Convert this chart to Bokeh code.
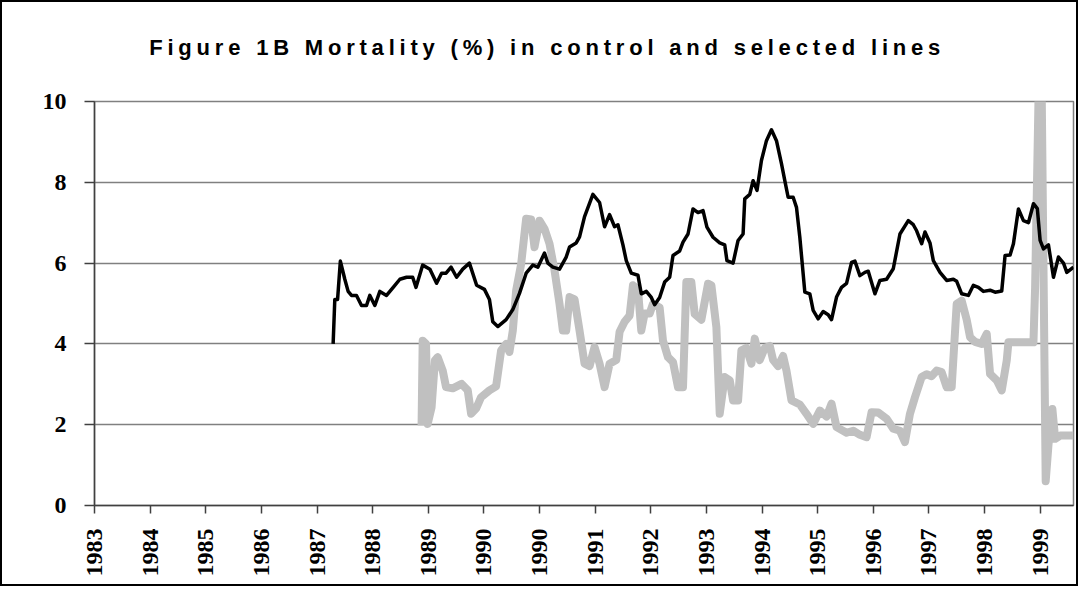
import math
from bokeh.plotting import figure
from bokeh.models import Range1d, FixedTicker, Column
from bokeh.embed import file_html
from bokeh.resources import INLINE
from bokeh.core.properties import value

title_text = "Figure 1B Mortality (%) in control and selected lines"
tick_labels = ["1983", "1984", "1985", "1986", "1987", "1988", "1989", "1990", "1990",
               "1991", "1992", "1993", "1994", "1995", "1996", "1997", "1998", "1999"]
y_ticks = [0, 2, 4, 6, 8, 10]

# control line (black), x in label-interval units
control_x = [4.29, 4.32, 4.37, 4.42, 4.50, 4.56, 4.62, 4.71, 4.80, 4.89, 4.95, 5.04, 5.13, 5.25,
             5.37, 5.49, 5.61, 5.72, 5.78, 5.90, 6.03, 6.15, 6.24, 6.32, 6.41, 6.51, 6.62, 6.74,
             6.87, 7.01, 7.10, 7.16, 7.25, 7.40, 7.52, 7.64, 7.76, 7.88, 7.97, 8.09, 8.15, 8.24,
             8.36, 8.48, 8.54, 8.66, 8.72, 8.81, 8.96, 9.08, 9.17, 9.26, 9.35, 9.41, 9.50, 9.56,
             9.65, 9.77, 9.83, 9.92, 10.01, 10.07, 10.16, 10.25, 10.34, 10.40, 10.52, 10.58, 10.67,
             10.76, 10.85, 10.94, 11.01, 11.12, 11.24, 11.33, 11.37, 11.48, 11.57, 11.66, 11.69,
             11.78, 11.84, 11.91, 11.99, 12.08, 12.17, 12.26, 12.35, 12.41, 12.47, 12.56, 12.62,
             12.68, 12.77, 12.86, 12.92, 13.01, 13.10, 13.19, 13.25, 13.34, 13.43, 13.52, 13.61,
             13.67, 13.76, 13.85, 13.91, 14.03, 14.12, 14.24, 14.36, 14.48, 14.63, 14.72, 14.78,
             14.87, 14.93, 15.02, 15.08, 15.20, 15.32, 15.44, 15.50, 15.59, 15.71, 15.80, 15.89,
             15.98, 16.10, 16.19, 16.31, 16.37, 16.46, 16.52, 16.61, 16.70, 16.79, 16.88, 16.95,
             17.00, 17.06, 17.15, 17.24, 17.33, 17.42, 17.48, 17.60]
control_y = [4.0, 5.1, 5.1, 6.05, 5.6, 5.3, 5.2, 5.2, 4.95, 4.95, 5.2, 4.95, 5.3, 5.2,
             5.4, 5.6, 5.65, 5.65, 5.4, 5.95, 5.85, 5.5, 5.75, 5.75, 5.9, 5.65, 5.85, 6.0,
             5.45, 5.35, 5.1, 4.55, 4.43, 4.6, 4.85, 5.25, 5.75, 5.95, 5.9, 6.25, 6.0, 5.9,
             5.85, 6.15, 6.4, 6.5, 6.65, 7.15, 7.7, 7.5, 6.9, 7.2, 6.9, 6.95, 6.45, 6.06,
             5.75, 5.7, 5.24, 5.3, 5.15, 4.97, 5.15, 5.53, 5.65, 6.19, 6.3, 6.52, 6.72,
             7.34, 7.25, 7.3, 6.89, 6.64, 6.5, 6.45, 6.06, 6.0, 6.56, 6.72, 7.59,
             7.7, 8.04, 7.8, 8.54, 9.03, 9.3, 9.03, 8.46, 8.04, 7.63, 7.63, 7.38,
             6.64, 5.28, 5.24, 4.83, 4.62, 4.8, 4.72, 4.6, 5.16, 5.4, 5.5, 6.02,
             6.05, 5.69, 5.77, 5.8, 5.24, 5.57, 5.6, 5.86, 6.72, 7.05, 6.95, 6.8,
             6.48, 6.77, 6.5, 6.06, 5.77, 5.57, 5.6, 5.55, 5.24, 5.2, 5.45, 5.4,
             5.3, 5.33, 5.28, 5.31, 6.19, 6.2, 6.48, 7.34, 7.05, 7.0, 7.47, 7.35,
             6.56, 6.35, 6.45, 5.65, 6.15, 6.0, 5.77, 5.9]

# selected line (grey)
selected_x = [5.88, 5.90, 5.96, 5.99, 6.06, 6.12, 6.17, 6.26, 6.32, 6.44, 6.60, 6.71, 6.77, 6.86,
              6.95, 7.10, 7.22, 7.31, 7.40, 7.46, 7.52, 7.58, 7.67, 7.76, 7.85, 7.91, 8.00, 8.09,
              8.18, 8.27, 8.36, 8.42, 8.48, 8.54, 8.63, 8.72, 8.81, 8.90, 8.99, 9.08, 9.17, 9.26,
              9.38, 9.44, 9.53, 9.62, 9.68, 9.77, 9.83, 9.89, 9.98, 10.04, 10.16, 10.22, 10.31,
              10.40, 10.49, 10.58, 10.64, 10.73, 10.79, 10.91, 11.03, 11.09, 11.18, 11.24, 11.33,
              11.42, 11.48, 11.57, 11.63, 11.72, 11.81, 11.87, 11.96, 12.05, 12.14, 12.20, 12.29,
              12.38, 12.44, 12.53, 12.68, 12.80, 12.92, 13.04, 13.16, 13.25, 13.34, 13.52, 13.64,
              13.76, 13.88, 13.97, 14.09, 14.24, 14.36, 14.48, 14.57, 14.66, 14.75, 14.87, 14.96,
              15.05, 15.14, 15.23, 15.32, 15.41, 15.50, 15.59, 15.68, 15.74, 15.83, 15.95, 16.04,
              16.10, 16.22, 16.31, 16.40, 16.43, 16.64, 16.88, 16.91, 16.97, 17.03, 17.10, 17.15,
              17.22, 17.27, 17.36, 17.60]
selected_y = [1.98, 4.08, 4.0, 2.02, 2.43, 3.59, 3.67, 3.34, 2.93, 2.9, 3.01, 2.85, 2.27, 2.4,
              2.68, 2.85, 2.95, 3.84, 4.0, 3.8, 4.33, 5.32, 5.98, 7.1, 7.08, 6.39, 7.05, 6.85,
              6.48, 5.82, 4.99, 4.33, 4.33, 5.16, 5.1, 4.33, 3.51, 3.45, 3.92, 3.51, 2.93, 3.51,
              3.6, 4.3, 4.55, 4.7, 5.45, 5.35, 4.33, 4.75, 4.75, 4.99, 4.9, 4.08, 3.67,
              3.55, 2.93, 2.93, 5.53, 5.53, 4.74, 4.6, 5.49, 5.45, 4.41, 2.27, 3.18,
              3.1, 2.6, 2.6, 3.84, 3.9, 3.51, 4.13, 3.6, 3.9, 3.95, 3.6, 3.45,
              3.7, 3.34, 2.6, 2.5, 2.27, 2.02, 2.35, 2.2, 2.52, 1.94, 1.8, 1.85,
              1.75, 1.69, 2.31, 2.3, 2.15, 1.9, 1.85, 1.57, 2.27, 2.68, 3.18, 3.25,
              3.2, 3.34, 3.3, 2.93, 2.93, 4.99, 5.07, 4.6, 4.17, 4.05, 4.0, 4.25,
              3.26, 3.1, 2.85, 3.59, 4.04, 4.04, 4.04, 5.4, 10.0, 10.0, 0.6, 1.5,
              2.39, 1.65, 1.73, 1.73]

FIG_W = 1074

# ---- title panel (pixel-like coordinates, y measured from top) ----
tp = figure(width=FIG_W, height=70, x_range=Range1d(0, FIG_W), y_range=Range1d(70, 0),
            toolbar_location=None, output_backend="svg", min_border=0,
            x_axis_location=None, y_axis_location=None)
tp.grid.visible = False
tp.outline_line_color = None
tp.text(x=[60], y=[45], text=[title_text], text_align="left", text_baseline="middle",
        text_font=value("Liberation Sans"), text_font_style="bold", text_font_size="22px",
        text_color="black")
tp.styles = {"letter-spacing": "4.8px"}

# ---- main plot ----
p = figure(width=FIG_W, height=512, x_range=Range1d(0, 17.6), y_range=Range1d(0, 10),
           toolbar_location=None, output_backend="svg",
           min_border_left=92, min_border_right=3, min_border_top=29, min_border_bottom=79)
p.outline_line_color = "#808080"
p.outline_line_width = 1.5

p.line(selected_x, selected_y, line_color="#C0C0C0", line_width=8, line_join="round")
p.line(control_x, control_y, line_color="black", line_width=3.5, line_join="round")

p.xaxis.ticker = FixedTicker(ticks=list(range(len(tick_labels))))
p.xaxis.major_label_overrides = {i: lab for i, lab in enumerate(tick_labels)}
p.xaxis.major_label_orientation = math.pi / 2
p.xaxis.minor_tick_line_color = None
p.xaxis.major_tick_out = 8
p.xaxis.major_tick_in = 0
p.xaxis.major_label_standoff = 15
p.xaxis.axis_line_color = "#404040"
p.xaxis.axis_line_width = 1.5
p.xaxis.major_tick_line_color = "#404040"
p.xaxis.major_tick_line_width = 1.5

p.yaxis.ticker = FixedTicker(ticks=y_ticks)
p.yaxis.minor_tick_line_color = None
p.yaxis.major_tick_out = 10
p.yaxis.major_tick_in = 0
p.yaxis.major_label_standoff = 18
p.yaxis.axis_line_color = "#404040"
p.yaxis.axis_line_width = 1.5
p.yaxis.major_tick_line_color = "#404040"
p.yaxis.major_tick_line_width = 1.5

for ax in (p.xaxis, p.yaxis):
    ax.major_label_text_font = "Liberation Serif"
    ax.major_label_text_font_style = "bold"
    ax.major_label_text_font_size = "24px"
    ax.major_label_text_color = "black"

p.xgrid.visible = False
p.ygrid.ticker = FixedTicker(ticks=y_ticks)
p.ygrid.grid_line_color = "#808080"
p.ygrid.grid_line_width = 1.5

layout = Column(children=[tp, p], styles={"border": "2px solid black"})

open("out.html", "w").write(file_html(layout, INLINE))
